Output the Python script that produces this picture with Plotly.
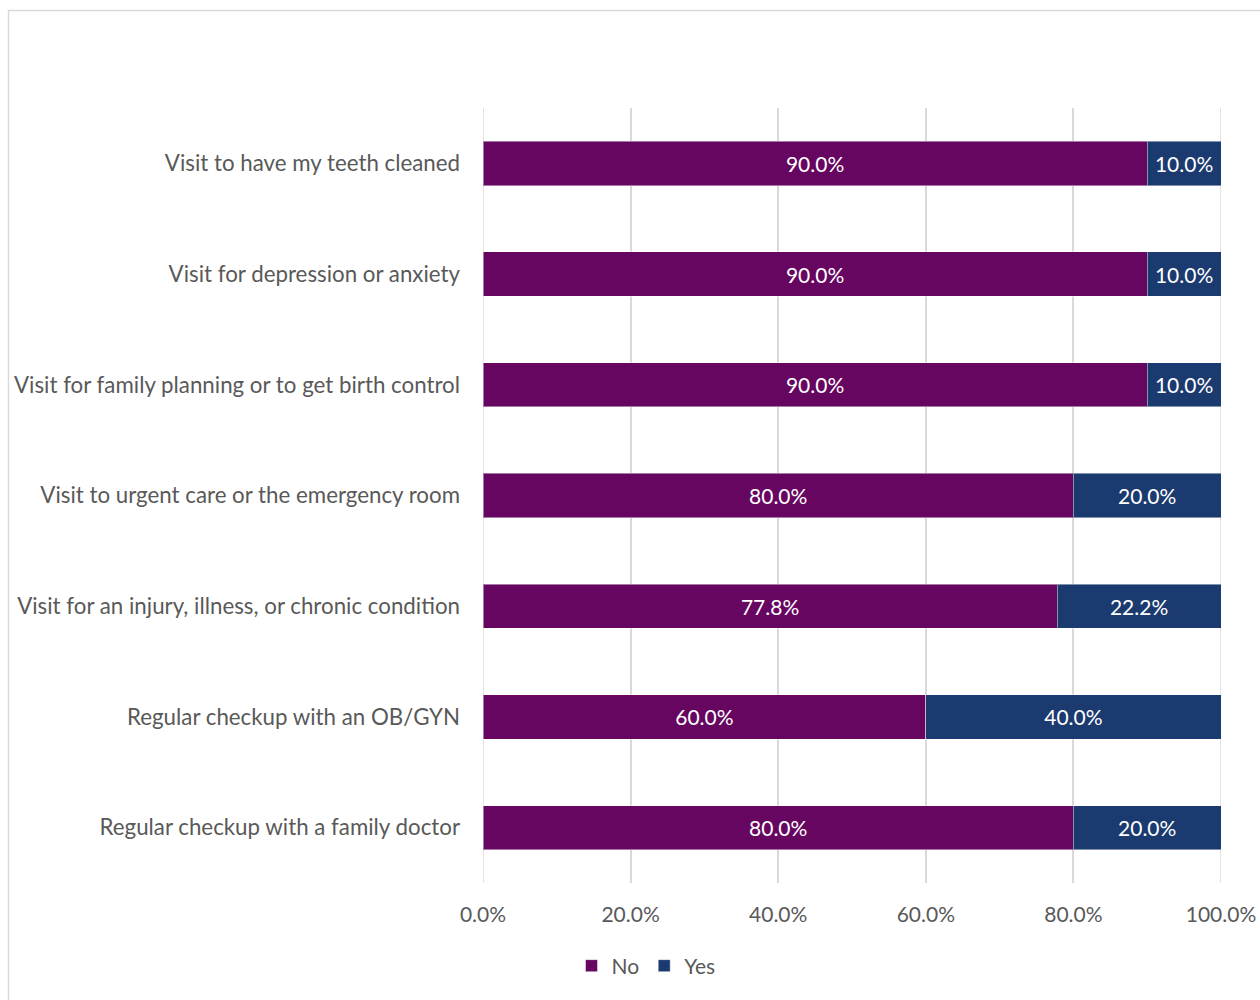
import plotly.graph_objects as go

categories = [
    "Visit to have my teeth cleaned",
    "Visit for depression or anxiety",
    "Visit for family planning or to get birth control",
    "Visit to urgent care or the emergency room",
    "Visit for an injury, illness, or chronic condition",
    "Regular checkup with an OB/GYN",
    "Regular checkup with a family doctor",
]
no_pct = [90.0, 90.0, 90.0, 80.0, 77.8, 60.0, 80.0]
yes_pct = [10.0, 10.0, 10.0, 20.0, 22.2, 40.0, 20.0]
x_ticks = [0, 20, 40, 60, 80, 100]
x_tick_labels = ["0.0%", "20.0%", "40.0%", "60.0%", "80.0%", "100.0%"]

NO_COLOR = "#660661"
YES_COLOR = "#1b3a70"
GRID = "#d9d9d9"
TEXT = "#595959"
FONT = "Lato, Calibri, sans-serif"

W, H = 1260, 1000
L, R, T, B = 483, 39, 108, 117

fig = go.Figure()
for name, vals, color in [("No", no_pct, NO_COLOR), ("Yes", yes_pct, YES_COLOR)]:
    fig.add_trace(go.Bar(
        name=name, y=categories, x=vals, orientation="h",
        marker=dict(color=color, line=dict(color="rgba(255,255,255,0.45)", width=1)),
        texttemplate="%{x:.1f}%", textposition="inside", insidetextanchor="middle",
        textfont=dict(color="white", size=21, family=FONT),
        hoverinfo="skip",
    ))

# vertical gridlines at the range edges (plotly omits them there)
for v in (x_ticks[0], x_ticks[-1]):
    fig.add_shape(type="line", xref="x", yref="paper", x0=v, x1=v, y0=0, y1=1,
                  line=dict(color=GRID, width=1.5), layer="below")

# chart-area border
pw, ph = W - L - R, H - T - B
def px_x(p): return (p - L) / pw
def px_y(p): return (H - B - p) / ph
fig.add_shape(type="rect", xref="paper", yref="paper",
              x0=px_x(8.5), x1=px_x(W + 10), y0=px_y(10.5), y1=px_y(H + 10),
              line=dict(color=GRID, width=1.5), fillcolor="rgba(0,0,0,0)", layer="below")

fig.update_layout(
    width=W, height=H, barmode="stack", bargap=0.6,
    margin=dict(l=L, r=R, t=T, b=B, autoexpand=False),
    paper_bgcolor="white", plot_bgcolor="white",
    font=dict(family=FONT, size=21, color=TEXT),
    legend=dict(orientation="h", x=px_x(646), xanchor="center", y=px_y(966), yanchor="middle",
                font=dict(size=21, color=TEXT, family=FONT), itemwidth=30,
                tracegroupgap=0, traceorder="normal"),
    xaxis=dict(range=[0, 100], tickvals=x_ticks, ticktext=x_tick_labels,
               showgrid=True, gridcolor=GRID, gridwidth=1.5, zeroline=False,
               showline=False, ticks="", ticklabelstandoff=17, automargin=False,
               tickfont=dict(size=21, color=TEXT, family=FONT), fixedrange=True),
    yaxis=dict(autorange="reversed", showgrid=False, zeroline=False, showline=False,
               ticks="", ticklabelstandoff=22, automargin=False,
               tickfont=dict(size=22.3, color=TEXT, family=FONT)),
)

fig.write_html("out.html")
